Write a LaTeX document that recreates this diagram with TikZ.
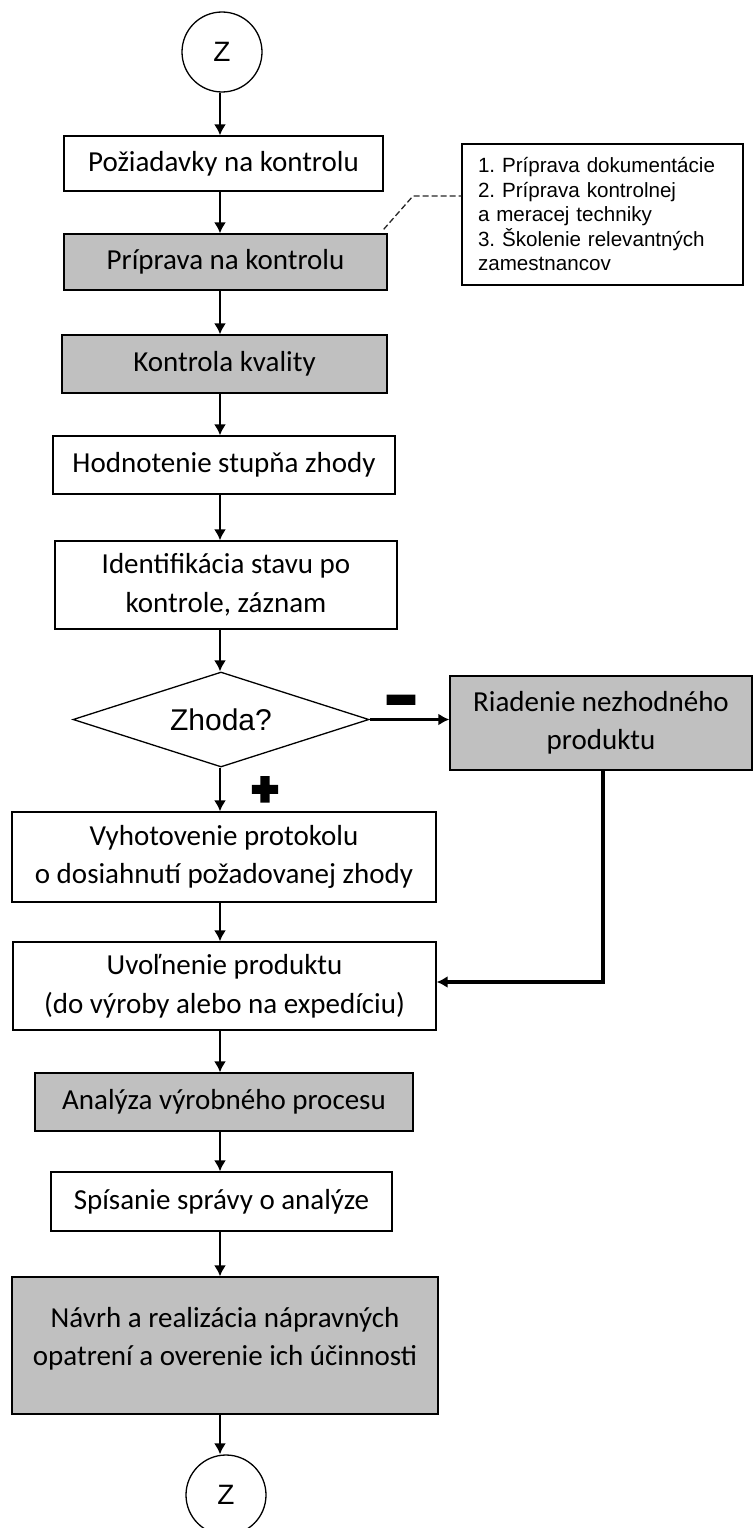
\documentclass[tikz,border=0pt]{standalone}
\usepackage{fontspec}
\setmainfont{Carlito}
\newfontfamily\arialf{Liberation Sans}
\newfontfamily\minusf[FakeBold=17]{DejaVu Sans Bold}
\newfontfamily\plusf[FakeBold=15]{DejaVu Sans Bold}
\usetikzlibrary{arrows.meta,shapes.geometric,calc}
\definecolor{boxgray}{RGB}{192,192,192}
\begin{document}
\frenchspacing
\begin{tikzpicture}[x=1pt,y=-1pt,
  box/.style={draw=black, line width=1.3pt, fill=white, inner sep=0pt, align=center,
    font=\fontsize{29}{38.5}\selectfont},
  graybox/.style={box, fill=boxgray},
  conn/.style={circle, draw=black, line width=1.3pt, minimum size=80pt, inner sep=0pt,
    font=\arialf\fontsize{28}{28}\selectfont},
  decision/.style={diamond, draw=black, line width=1.3pt, aspect=3.1, inner sep=0pt,
    minimum width=296pt, minimum height=95pt, font=\arialf\fontsize{30}{30}\selectfont},
  notebox/.style={draw=black, line width=1.3pt, inner xsep=16pt, inner ysep=0pt,
    text width=249pt, align=left, minimum height=141pt,
    font=\arialf\fontsize{20.6}{24.5}\selectfont},
  arr/.style={line width=2pt, -{Latex[length=11pt,width=12pt]}},
  thickarr/.style={line width=3.2pt, -{Latex[length=11pt,width=12pt]}},
  dashconn/.style={line width=1.3pt, draw=black!85, dash pattern=on 6pt off 3pt},
  signtxt/.style={inner sep=0pt, anchor=base}
]
\useasboundingbox (0,0) rectangle (753,1528);
\clip (0,0) rectangle (753,1528);

\coordinate (ax) at (220,0);

\node[conn] (c1) at (222,52) {Z};
\node[box, minimum width=319pt, minimum height=55pt] (b1) at (223.5,163.5) {Požiadavky na kontrolu};
\node[graybox, minimum width=323pt, minimum height=56pt] (b2) at (225.5,262) {Príprava na kontrolu};
\node[notebox] (note) at (602.5,214.5) {1. Príprava dokumentácie\\2. Príprava kontrolnej\\a meracej techniky\\3. Školenie relevantných\\zamestnancov};
\node[graybox, minimum width=325pt, minimum height=58pt] (b3) at (224.5,364) {Kontrola kvality};
\node[box, minimum width=342pt, minimum height=58pt] (b4) at (224,465) {Hodnotenie stupňa zhody};
\node[box, minimum width=342pt, minimum height=88pt] (b5) at (226,585) {Identifikácia stavu po\\kontrole, záznam};
\node[decision] (dia) at (221,719.5) {Zhoda?};
\node[graybox, minimum width=302pt, minimum height=94pt] (b6) at (601,723) {Riadenie nezhodného\\produktu};
\node[box, minimum width=424pt, minimum height=90pt] (b7) at (224,857) {Vyhotovenie protokolu\\o dosiahnutí požadovanej zhody};
\node[box, minimum width=423pt, minimum height=88pt] (b8) at (224.5,986) {Uvoľnenie produktu\\(do výroby alebo na expedíciu)};
\node[graybox, minimum width=378pt, minimum height=58pt] (b9) at (224,1102) {Analýza výrobného procesu};
\node[box, minimum width=341pt, minimum height=59pt] (b10) at (221.5,1201.5) {Spísanie správy o analýze};
\node[graybox, minimum width=426pt, minimum height=137pt] (b11) at (225,1345.5) {};
\node[align=center, inner sep=0pt, font=\fontsize{29}{38.5}\selectfont] (b11t) at (225,1339) {Návrh a realizácia nápravných\\opatrení a overenie ich účinnosti};
\node[conn] (c2) at (226,1495) {Z};

\node[signtxt, font=\minusf\fontsize{36}{36}\selectfont] (minus) at (401,711) {−};
\node[signtxt, font=\plusf\fontsize{34}{34}\selectfont] (plus) at (265,800) {+};

\draw[arr] (c1.south -| ax) -- (b1.north -| ax);
\draw[arr] (b1.south -| ax) -- (b2.north -| ax);
\draw[arr] (b2.south -| ax) -- (b3.north -| ax);
\draw[arr] (b3.south -| ax) -- (b4.north -| ax);
\draw[arr] (b4.south -| ax) -- (b5.north -| ax);
\draw[arr] (b5.south -| ax) -- (dia.north -| ax);
\draw[arr] (dia.south -| ax) -- (b7.north -| ax);
\draw[arr] (b7.south -| ax) -- (b8.north -| ax);
\draw[arr] (b8.south -| ax) -- (b9.north -| ax);
\draw[arr] (b9.south -| ax) -- (b10.north -| ax);
\draw[arr] (b10.south -| ax) -- (b11.north -| ax);
\draw[arr] (b11.south -| ax) -- (c2.north -| ax);

\draw[thickarr] (dia.east) -- (dia.east -| b6.west);
\coordinate (rj) at (603,982);
\draw[thickarr] (b6.south -| rj) -- (rj) -- (rj -| b8.east);

\coordinate (dk) at (413,196);
\draw[dashconn] ($(b2.north east)+(-4,-4)$) -- (dk) -- (dk -| note.west);
\end{tikzpicture}
\end{document}
